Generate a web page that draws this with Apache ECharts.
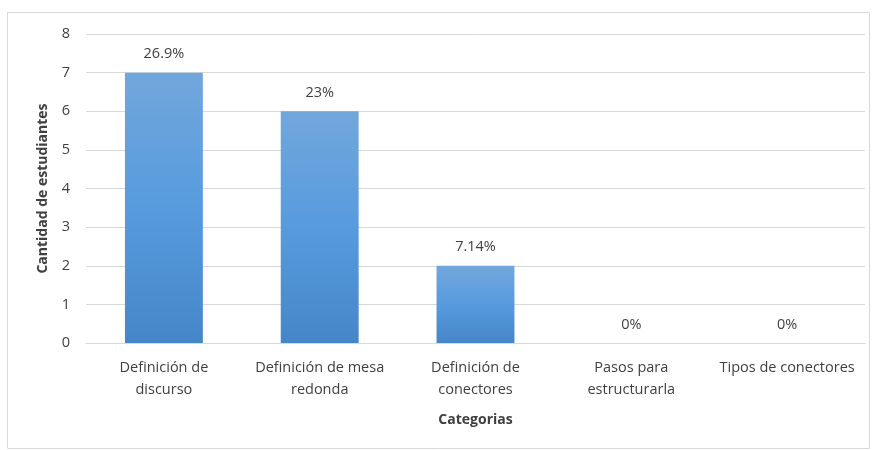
<!DOCTYPE html>
<html>
<head>
<meta charset="utf-8">
<script src="https://cdn.jsdelivr.net/npm/echarts@6/dist/echarts.min.js"></script>
<style>html,body{margin:0;padding:0;background:#fff;}#c{width:873px;height:450px;}</style>
</head>
<body>
<div id="c"></div>
<script>
const categories = ["Definición de\ndiscurso", "Definición de mesa\nredonda", "Definición de\nconectores", "Pasos para\nestructurarla", "Tipos de conectores"];
const values = [7, 6, 2, 0, 0];
const percentLabels = ["26.9%", "23%", "7.14%", "0%", "0%"];
const yTicks = [0, 8, 1];

const chart = echarts.init(document.getElementById('c'));
const font = '"Open Sans", Lato, sans-serif';
chart.setOption({
  animation: false,
  graphic: [{
    type: 'rect', shape: {x: 7.5, y: 12.5, width: 862, height: 436},
    style: {fill: 'none', stroke: '#D9D9D9', lineWidth: 1}, silent: true
  }],
  grid: {left: 86, right: 8, top: 34, bottom: 107},
  xAxis: {
    type: 'category', data: categories,
    name: 'Categorias', nameLocation: 'middle', nameGap: 70,
    nameTextStyle: {fontFamily: font, fontSize: 14, fontWeight: 'bold', color: '#404040'},
    axisLine: {lineStyle: {color: '#D9D9D9'}}, axisTick: {show: false},
    axisLabel: {fontFamily: font, fontSize: 14.5, color: '#404040', margin: 14, lineHeight: 22, interval: 0}
  },
  yAxis: {
    type: 'value', min: yTicks[0], max: yTicks[1], interval: yTicks[2],
    name: 'Cantidad de estudiantes', nameLocation: 'middle', nameGap: 36, nameRotate: 90,
    nameTextStyle: {fontFamily: font, fontSize: 14, fontWeight: 'bold', color: '#404040'},
    axisLine: {show: false}, axisTick: {show: false},
    axisLabel: {fontFamily: font, fontSize: 14.5, color: '#404040', margin: 16},
    splitLine: {lineStyle: {color: '#D9D9D9'}}
  },
  series: [{
    type: 'bar', data: values, barWidth: '50%',
    itemStyle: {
      color: new echarts.graphic.LinearGradient(0, 0, 0, 1, [
        {offset: 0, color: '#72A7DC'},
        {offset: 0.5, color: '#579BDE'},
        {offset: 1, color: '#4586C8'}
      ])
    },
    label: {
      show: true, position: 'top', distance: 11,
      fontFamily: font, fontSize: 14.5, color: '#404040',
      formatter: p => percentLabels[p.dataIndex]
    }
  }]
});
</script>
</body>
</html>
